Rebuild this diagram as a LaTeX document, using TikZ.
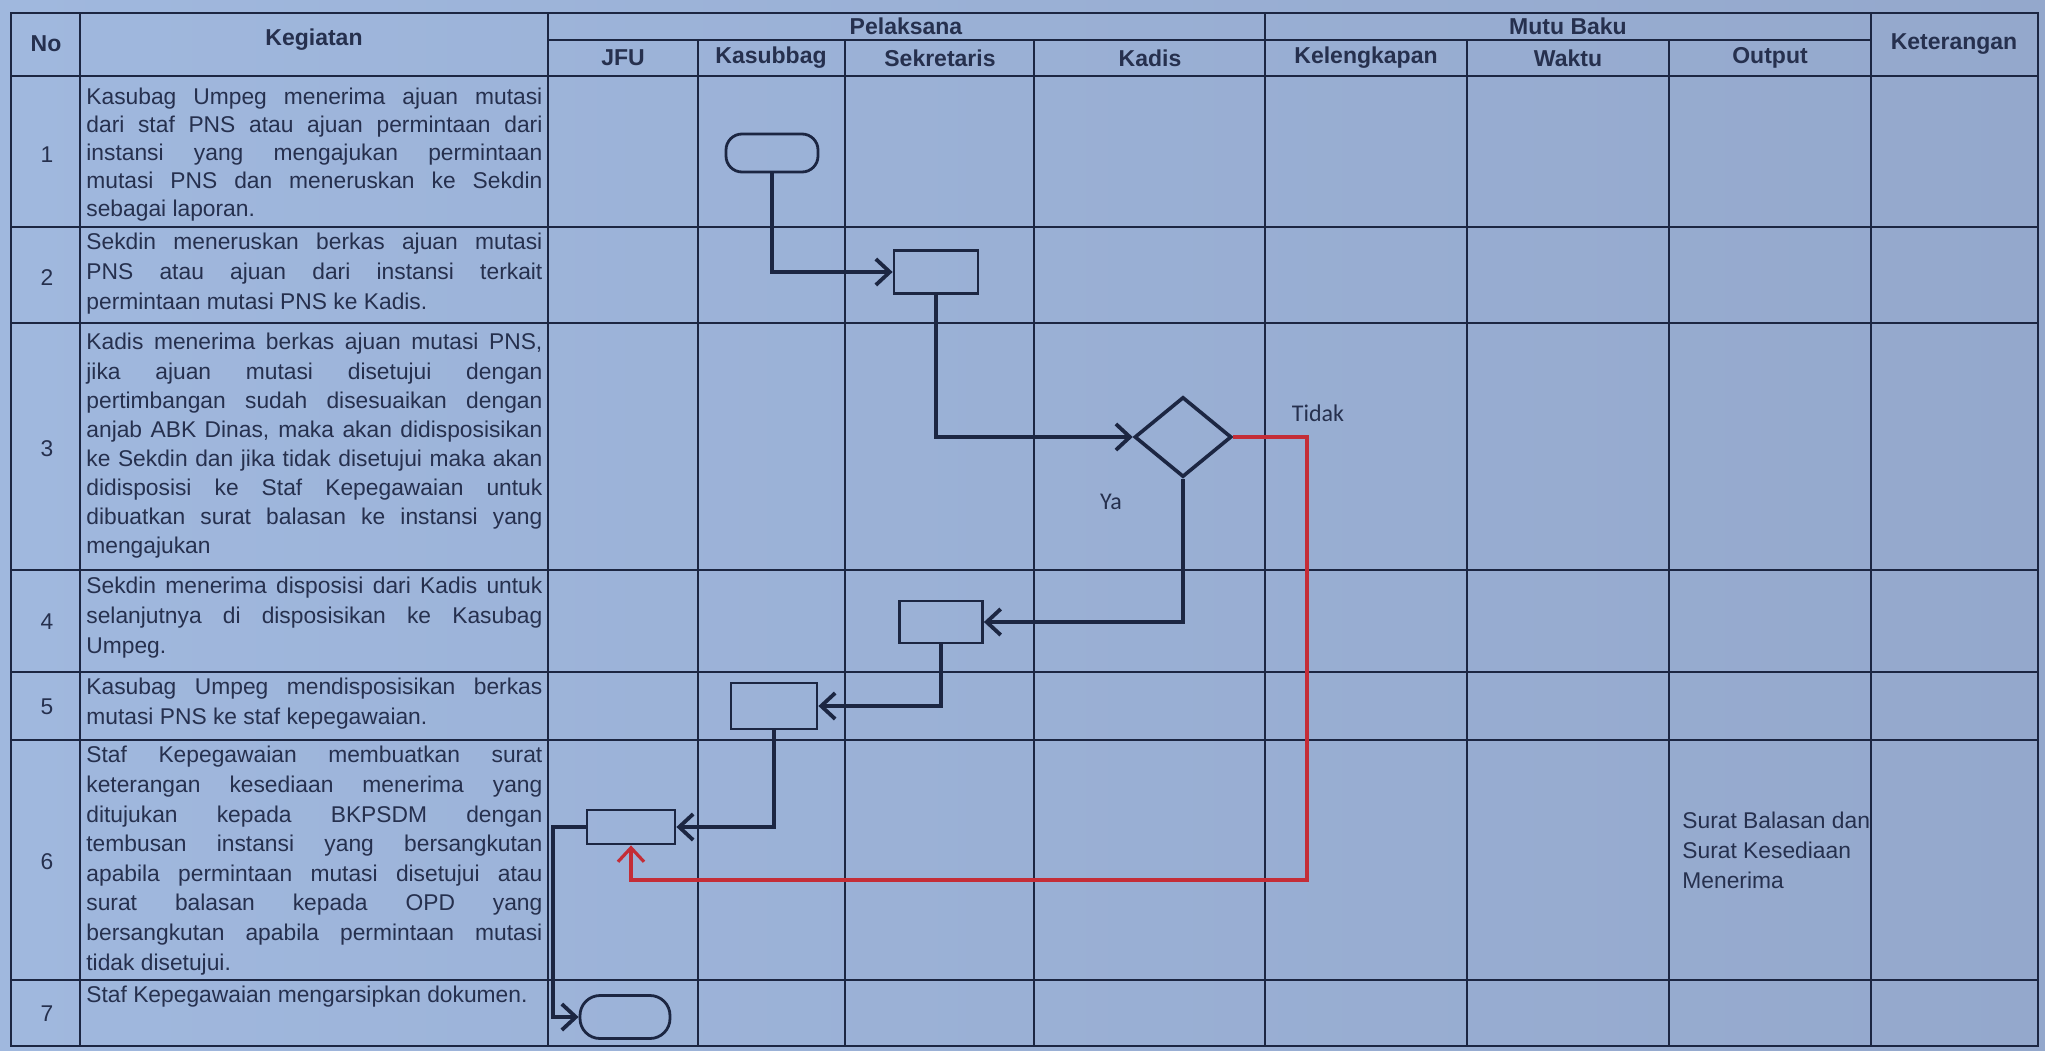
\documentclass[tikz,border=0pt]{standalone}
\usepackage{fontspec}
\setmainfont{Liberation Sans}
\newfontfamily\labfont{Carlito}
\usetikzlibrary{arrows.meta,shapes.geometric}

\definecolor{bgl}{RGB}{160,184,222}
\definecolor{bgr}{RGB}{148,168,204}
\definecolor{ink}{RGB}{28,38,66}
\definecolor{txt}{RGB}{38,48,78}
\definecolor{redl}{RGB}{196,45,55}

\newcommand\jl[1]{\makebox[228pt][s]{#1}}

\begin{document}
\begin{tikzpicture}[x=0.5pt,y=-0.5pt,
  grid/.style={draw=ink, line width=1.1pt},
  hdr/.style={font=\fontsize{11.5}{14}\selectfont\bfseries, text=txt, inner sep=0},
  keg/.style={anchor=north west, align=left, inner sep=0, text=txt, font=\fontsize{11.4}{14.8}\selectfont},
  num/.style={font=\fontsize{11.4}{14}\selectfont, text=txt, inner sep=0},
  boxn/.style={draw=ink, line width=1.4pt, rectangle, inner sep=0},
  term/.style={boxn, rounded corners=8pt},
  conn/.style={draw=ink, line width=1.9pt, -{Straight Barb[length=7pt,width=13pt]}},
  connr/.style={draw=redl, line width=1.6pt, -{Straight Barb[length=7pt,width=13pt]}},
  lab/.style={font=\labfont\fontsize{12}{14}\selectfont, text=txt, inner sep=0}
]
\useasboundingbox (0,0) rectangle (2045,1050);
\shade[left color=bgl, right color=bgr] (0,0) rectangle (2045,1050);

% ---------- table grid ----------
\draw[grid] (11,13) rectangle (2038,1046);
\draw[grid] (548,40) -- (1871,40);
\foreach \y in {76,227,323,570,672,740,980}
  \draw[grid] (11,\y) -- (2038,\y);
\foreach \x in {80,548,1265,1871}
  \draw[grid] (\x,13) -- (\x,1046);
\foreach \x in {698,845,1034,1467,1669}
  \draw[grid] (\x,40) -- (\x,1046);

% ---------- header ----------
\node[hdr] (hNo) at (46,44) {No};
\node[hdr] (hKeg) at (314,40) {Kegiatan};
\node[hdr] (hPel) at (906,26) {Pelaksana};
\node[hdr] (hMutu) at (1568,26) {Mutu Baku};
\node[hdr] (hKet) at (1954,44) {Keterangan};
\node[hdr] (hJFU) at (623,58) {JFU};
\node[hdr] (hKsb) at (771,58) {Kasubbag};
\node[hdr] (hSek) at (940,58) {Sekretaris};
\node[hdr] (hKad) at (1150,58) {Kadis};
\node[hdr] (hKel) at (1366,58) {Kelengkapan};
\node[hdr] (hWak) at (1568,58) {Waktu};
\node[hdr] (hOut) at (1770,58) {Output};

% ---------- numbers ----------
\node[num] (n1) at (47,155) {1};
\node[num] (n2) at (47,278) {2};
\node[num] (n3) at (47,449) {3};
\node[num] (n4) at (47,622) {4};
\node[num] (n5) at (47,707) {5};
\node[num] (n6) at (47,862) {6};
\node[num] (n7) at (47,1014) {7};

% ---------- kegiatan ----------
\node[keg, font=\fontsize{11.4}{14}\selectfont] (k1) at (86,88) {\jl{Kasubag Umpeg menerima ajuan mutasi}\\
\jl{dari staf PNS atau ajuan permintaan dari}\\
\jl{instansi yang mengajukan permintaan}\\
\jl{mutasi PNS dan meneruskan ke Sekdin}\\
sebagai laporan.};
\node[keg] (k2) at (86,233) {\jl{Sekdin meneruskan berkas ajuan mutasi}\\
\jl{PNS atau ajuan dari instansi terkait}\\
permintaan mutasi PNS ke Kadis.};
\node[keg, font=\fontsize{11.4}{14.55}\selectfont] (k3) at (86,333) {\jl{Kadis menerima berkas ajuan mutasi PNS,}\\
\jl{jika ajuan mutasi disetujui dengan}\\
\jl{pertimbangan sudah disesuaikan dengan}\\
\jl{anjab ABK Dinas, maka akan didisposisikan}\\
\jl{ke Sekdin dan jika tidak disetujui maka akan}\\
\jl{didisposisi ke Staf Kepegawaian untuk}\\
\jl{dibuatkan surat balasan ke instansi yang}\\
mengajukan};
\node[keg] (k4) at (86,577) {\jl{Sekdin menerima disposisi dari Kadis untuk}\\
\jl{selanjutnya di disposisikan ke Kasubag}\\
Umpeg.};
\node[keg] (k5) at (86,678) {\jl{Kasubag Umpeg mendisposisikan berkas}\\
mutasi PNS ke staf kepegawaian.};
\node[keg] (k6) at (86,746) {\jl{Staf Kepegawaian membuatkan surat}\\
\jl{keterangan kesediaan menerima yang}\\
\jl{ditujukan kepada BKPSDM dengan}\\
\jl{tembusan instansi yang bersangkutan}\\
\jl{apabila permintaan mutasi disetujui atau}\\
\jl{surat balasan kepada OPD yang}\\
\jl{bersangkutan apabila permintaan mutasi}\\
tidak disetujui.};
\node[keg] (k7) at (86,986) {Staf Kepegawaian mengarsipkan dokumen.};

% ---------- output ----------
\node[keg] (o6) at (1682,812) {Surat Balasan dan\\ Surat Kesediaan\\ Menerima};

% ---------- flowchart ----------
\node[term, minimum width=46pt, minimum height=19pt] (t1) at (772,153) {};
\node[boxn, minimum width=42pt, minimum height=21.5pt] (b2) at (936,272) {};
\node[diamond, draw=ink, line width=1.8pt, inner sep=0, minimum width=48.5pt, minimum height=40pt] (d3) at (1183,437) {};
\node[boxn, minimum width=41.5pt, minimum height=21pt] (b4) at (941,622) {};
\node[boxn, minimum width=43pt, minimum height=23pt] (b5) at (774,706) {};
\node[boxn, minimum width=44pt, minimum height=17pt] (b6) at (631,827) {};
\node[term, minimum width=45pt, minimum height=21.5pt, rounded corners=10pt] (t7) at (625,1017) {};

\coordinate (c6) at (553,827);
\coordinate (r1) at (1307,880);

\draw[conn] (t1.south) |- (b2.west);
\draw[conn] (b2.south) |- (d3.west);
\draw[conn] (d3.south) |- (b4.east);
\draw[conn] (b4.south) |- (b5.east);
\draw[conn] (b5.south) |- (b6.east);
\draw[conn] (b6.west) -- (c6) |- (t7.west);
\draw[connr] (d3.east) -| (r1) -| (b6.south);

\node[lab] (lTidak) at (1318,413) {Tidak};
\node[lab] (lYa) at (1111,502) {Ya};
\end{tikzpicture}
\end{document}
